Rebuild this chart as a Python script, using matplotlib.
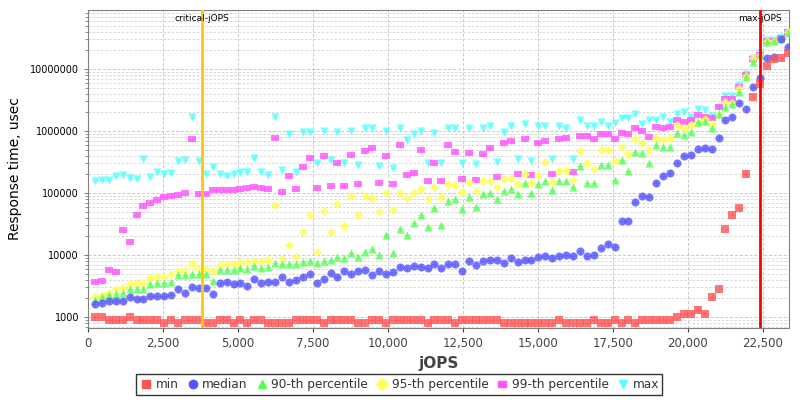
import numpy as np
import matplotlib.pyplot as plt
from matplotlib.ticker import FuncFormatter, LogLocator, NullFormatter, MultipleLocator
from matplotlib.lines import Line2D

# jOPS steps of the RT curve (101 points, ~231 jOPS apart)
step = 231
jops = step * np.arange(1, 102)
critical_jops = 3810
max_jops = 22410

rt_min = [1000, 1000, 900, 900, 900, 1000, 900, 900, 900, 900,
          800, 900, 800, 900, 900, 900, 800, 800, 900, 900,
          800, 900, 800, 900, 900, 800, 800, 800, 800, 900,
          900, 900, 900, 800, 900, 900, 900, 900, 800, 800,
          900, 900, 800, 900, 900, 900, 900, 900, 800, 900,
          900, 900, 800, 900, 900, 900, 900, 900, 900, 800,
          800, 800, 800, 800, 800, 800, 800, 900, 800, 800,
          800, 800, 900, 800, 800, 900, 800, 900, 800, 900,
          900, 900, 900, 900, 1000, 1100, 1100, 1300, 1100, 2100,
          2800, 26300, 44000, 56600, 202000, 3.5e6, 5.7e6, 1.1e7, 1.45e7, 1.5e7,
          1.8e7]

rt_median = [1600, 1660, 1790, 1790, 1790, 2080, 1950, 1950, 2160, 2160,
             2160, 2260, 2800, 2470, 3010, 2900, 2900, 2350, 3490, 3620,
             3400, 3550, 3170, 4100, 3490, 3620, 3700, 4370, 3620, 3900,
             4420, 4940, 3530, 4100, 5120, 4420, 5450, 4900, 5450, 5650,
             4760, 5450, 4940, 5320, 6400, 6110, 6640, 6480, 6110, 7170,
             6250, 7170, 7170, 5510, 7900, 6820, 7900, 8200, 8200, 7350,
             8850, 7600, 8200, 8400, 9400, 9640, 8850, 9770, 10000, 9640,
             11600, 9640, 10000, 13000, 14900, 13500, 35300, 35300, 71600, 90400,
             86000, 147000, 190000, 208000, 300000, 395000, 405000, 515000, 535000, 505000,
             771000, 1.5e6, 1.68e6, 2.8e6, 2.25e6, 5.07e6, 7.07e6, 1.49e7, 1.55e7, 3.0e7,
             2.3e7]

rt_p90 = [1880, 2125, 2260, 2320, 2410, 2800, 2800, 2800, 3400, 3490,
          3490, 3700, 4760, 4760, 4940, 4940, 4940, 3850, 5650, 5650,
          5800, 6110, 6000, 6640, 6110, 6480, 7350, 7170, 7170, 7170,
          7600, 8090, 7350, 8090, 8400, 9170, 8850, 10660, 9170, 11300,
          12350, 9880, 20800, 10660, 26000, 20800, 33200, 44700, 28000, 56600,
          30500, 74000, 79000, 54500, 85000, 58500, 95000, 99000, 79000, 109000,
          114000, 95000, 143000, 99000, 138000, 154000, 112000, 154000, 154000, 123000,
          273000, 143000, 143000, 285000, 278000, 164000, 340000, 228000, 464000, 435000,
          300000, 590000, 545000, 560000, 940000, 855000, 950000, 1.41e6, 1.45e6, 1.1e6,
          1.85e6, 2.4e6, 2.75e6, 4.3e6, 7.3e6, 1.31e7, 1.68e7, 2.76e7, 2.85e7, 3.1e7,
          3.77e7]

rt_p95 = [2200, 2300, 2470, 2800, 2900, 3370, 3490, 3580, 4260, 4470,
          4470, 4900, 5450, 5450, 7170, 5880, 5880, 5580, 6820, 7070,
          7070, 7350, 7600, 7900, 7800, 8330, 63000, 8500, 14300, 9400,
          23300, 44200, 11300, 51300, 23300, 65600, 29400, 88000, 43600, 88000,
          82000, 48700, 99000, 53400, 99000, 82000, 99000, 114000, 79000, 123000,
          85000, 140000, 133000, 103000, 152000, 109000, 154000, 154000, 123000, 168000,
          175000, 140000, 202000, 145000, 192000, 315000, 152000, 224000, 235000, 162000,
          475000, 300000, 240000, 490000, 490000, 328000, 555000, 420000, 743000, 630000,
          490000, 780000, 715000, 780000, 1.27e6, 1.1e6, 1.27e6, 1.41e6, 1.55e6, 1.3e6,
          1.9e6, 2.9e6, 2.8e6, 4.9e6, 7.7e6, 1.5e7, 1.7e7, 2.85e7, 2.85e7, 3.2e7,
          3.9e7]

rt_p99 = [3700, 3850, 5800, 5250, 25000, 16000, 44700, 62400, 68000, 76000,
          85000, 88000, 92000, 101000, 743000, 95000, 95000, 110000, 110000, 113000,
          113000, 117000, 122000, 126000, 122000, 117000, 780000, 103000, 190000, 114000,
          262000, 372000, 122000, 395000, 130000, 306000, 130000, 414000, 140000, 480000,
          537000, 146000, 395000, 141000, 586000, 195000, 212000, 490000, 154000, 300000,
          158000, 600000, 464000, 168000, 435000, 162000, 420000, 537000, 183000, 645000,
          690000, 200000, 735000, 195000, 645000, 700000, 200000, 735000, 780000, 220000,
          835000, 835000, 735000, 905000, 905000, 750000, 935000, 895000, 1.1e6, 1.0e6,
          810000, 1.15e6, 1.1e6, 1.15e6, 1.5e6, 1.41e6, 1.5e6, 1.8e6, 1.7e6, 1.6e6,
          2.4e6, 3.3e6, 3.3e6, 5.2e6, 8.0e6, 1.45e7, 1.7e7, 2.85e7, 2.85e7, 3.2e7,
          3.9e7]

rt_max = [158000, 162000, 162000, 190000, 197000, 175000, 168000, 353000, 183000, 215000,
          202000, 208000, 330000, 340000, 1.7e6, 330000, 202000, 265000, 202000, 190000,
          202000, 220000, 215000, 362000, 215000, 192000, 1.7e6, 235000, 885000, 215000,
          950000, 950000, 310000, 1.0e6, 345000, 950000, 306000, 1.0e6, 285000, 1.12e6,
          1.12e6, 275000, 1.0e6, 253000, 1.12e6, 715000, 895000, 1.0e6, 310000, 936000,
          308000, 1.12e6, 1.12e6, 300000, 1.12e6, 293000, 1.12e6, 1.22e6, 315000, 950000,
          1.22e6, 353000, 1.3e6, 330000, 1.22e6, 1.22e6, 358000, 1.22e6, 1.12e6, 358000,
          1.5e6, 1.22e6, 1.22e6, 1.4e6, 1.22e6, 1.33e6, 1.65e6, 1.63e6, 1.85e6, 1.3e6,
          1.5e6, 1.5e6, 1.7e6, 1.41e6, 1.85e6, 2.05e6, 1.7e6, 2.3e6, 2.15e6, 1.75e6,
          2.46e6, 3.7e6, 3.7e6, 5.5e6, 8.2e6, 1.52e7, 1.79e7, 2.94e7, 2.94e7, 3.3e7,
          4.0e7]

labels = ['min', 'median', '90-th percentile', '95-th percentile', '99-th percentile', 'max']
colors = ['#FF5555', '#5555FF', '#55FF55', '#FFFF55', '#FF55FF', '#55FFFF']
rect = [(-1, -0.7), (1, -0.7), (1, 0.7), (-1, 0.7), (-1, -0.7)]
markers = ['s', 'o', '^', 'D', rect, 'v']
sizes = [26, 34, 34, 22, 34, 34]
series = [rt_min, rt_median, rt_p90, rt_p95, rt_p99, rt_max]

fig = plt.figure(figsize=(8, 4), dpi=100)
ax = fig.add_axes([88 / 800, 72 / 400, 701 / 800, 318 / 400])

# later series are drawn first, min ends up on top
for k, (vals, lab, col, mk, sz) in enumerate(zip(series, labels, colors, markers, sizes)):
    ax.scatter(jops, vals, s=sz, marker=mk, color=col, alpha=0.8,
               linewidths=0, zorder=10 - k, label=lab)
    # faint cross inside each shape, like the original renderer
    ax.scatter(jops, vals, s=sz * 0.7, marker='+', color=col, alpha=0.6,
               linewidths=0.6, zorder=10 - k)

ax.axvline(critical_jops, color='#FFC800', lw=2, zorder=20)
ax.axvline(max_jops, color='#FF0000', lw=2, zorder=20)
ax.text(critical_jops, 0.972, 'critical-jOPS', transform=ax.get_xaxis_transform(),
        ha='center', va='center', fontsize=6.5, zorder=21)
ax.text(max_jops, 0.972, 'max-jOPS', transform=ax.get_xaxis_transform(),
        ha='center', va='center', fontsize=6.5, zorder=21)

ax.set_yscale('log')
ax.set_ylim(665, 8.95e7)
ax.set_xlim(0, 23370)

ax.xaxis.set_major_locator(MultipleLocator(2500))
ax.xaxis.set_major_formatter(FuncFormatter(lambda v, p: f'{int(v):,}'))
ax.yaxis.set_major_locator(LogLocator(base=10, numticks=20))
ax.yaxis.set_minor_locator(LogLocator(base=10, subs=np.arange(2, 10), numticks=20))
ax.yaxis.set_major_formatter(FuncFormatter(lambda v, p: f'{int(round(v))}'))
ax.yaxis.set_minor_formatter(NullFormatter())

ax.grid(True, which='major', axis='both', color='#C8C8C8', linestyle=(0, (3, 2)), lw=0.7)
ax.grid(True, which='minor', axis='y', color='#D2D2D2', linestyle=(0, (3, 2)), lw=0.6)
ax.set_axisbelow(True)

for s in ax.spines.values():
    s.set_color('#808080')
ax.tick_params(axis='x', labelsize=8.5, colors='#444444', length=3, labelcolor='#444444')
ax.tick_params(axis='y', which='major', labelsize=7, length=3, color='#808080', labelcolor='black')
ax.tick_params(axis='y', which='minor', length=2, color='#808080')

ax.set_xlabel('jOPS', fontsize=11, fontweight='bold', color='#444444', labelpad=4)
ax.set_ylabel('Response time, usec', fontsize=10, labelpad=6)

handles = [Line2D([], [], linestyle='none', marker=mk, color=col, markersize=6)
           for mk, col in zip(markers, colors)]
leg = fig.legend(handles, labels, loc='center', bbox_to_anchor=(0.499, 0.039), ncol=6,
                 fontsize=8.7, frameon=True, fancybox=False, handletextpad=0.25,
                 columnspacing=0.6, borderpad=0.3, handlelength=1.1)
leg.get_frame().set_edgecolor('black')
leg.get_frame().set_linewidth(1.0)
for t in leg.get_texts():
    t.set_color('#333333')

fig.savefig('out.png', dpi=100)
